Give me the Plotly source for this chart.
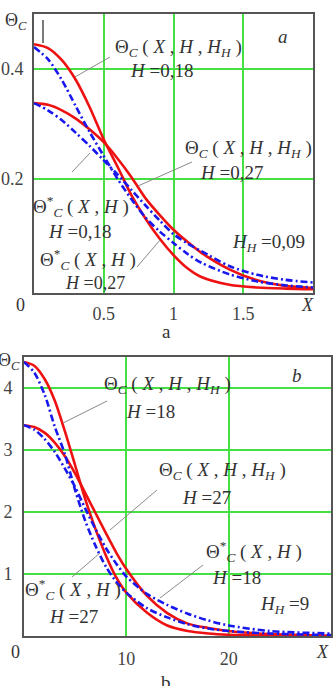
import plotly.graph_objects as go

# ---------------- data ----------------
# panel a
xa = [0, 0.1, 0.2, 0.3, 0.4, 0.5, 0.6, 0.7, 0.8, 0.9, 1.0, 1.1, 1.2, 1.4, 1.6, 1.8, 2.0]
a_red_018 = [0.445, 0.438, 0.416, 0.38, 0.33, 0.272, 0.222, 0.17, 0.128, 0.092, 0.062, 0.038, 0.022, 0.008, 0.003, 0.001, 0.0]
a_red_027 = [0.338, 0.335, 0.325, 0.31, 0.29, 0.267, 0.237, 0.203, 0.165, 0.135, 0.108, 0.086, 0.066, 0.036, 0.016, 0.006, 0.002]
a_blue_018 = [0.44, 0.418, 0.38, 0.332, 0.285, 0.242, 0.2, 0.163, 0.13, 0.105, 0.084, 0.064, 0.048, 0.027, 0.014, 0.007, 0.003]
a_blue_027 = [0.338, 0.325, 0.307, 0.284, 0.26, 0.234, 0.208, 0.18, 0.152, 0.125, 0.1, 0.083, 0.069, 0.042, 0.026, 0.017, 0.012]
a_xticks = [0.5, 1, 1.5]
a_xticklabels = ["0.5", "1", "1.5"]
a_yticks = [0.2, 0.4]
a_yticklabels = ["0.2", "0.4"]

# panel b
xb = [0, 1, 2, 3, 4, 5, 6, 7, 8, 9, 10, 12, 14, 16, 18, 20, 24, 30]
b_red_18 = [4.42, 4.36, 4.15, 3.8, 3.3, 2.75, 2.2, 1.72, 1.3, 0.95, 0.7, 0.38, 0.17, 0.08, 0.04, 0.02, 0.005, 0.0]
b_red_27 = [3.4, 3.37, 3.28, 3.12, 2.9, 2.62, 2.3, 1.98, 1.66, 1.35, 1.08, 0.65, 0.37, 0.2, 0.13, 0.08, 0.03, 0.005]
b_blue_18 = [4.42, 4.25, 3.9, 3.38, 2.93, 2.35, 1.85, 1.45, 1.12, 0.88, 0.7, 0.45, 0.3, 0.19, 0.12, 0.08, 0.04, 0.015]
b_blue_27 = [3.4, 3.33, 3.18, 2.97, 2.7, 2.4, 2.05, 1.72, 1.42, 1.17, 0.96, 0.68, 0.5, 0.36, 0.25, 0.17, 0.08, 0.04]
b_xticks = [10, 20]
b_xticklabels = ["10", "20"]
b_yticks = [1, 2, 3, 4]
b_yticklabels = ["1", "2", "3", "4"]

W, H = 333, 686
SERIF = "Liberation Serif, Times New Roman, serif"
TXT = "#333333"
GRID = "#44e044"
FRAME = "#555555"
RED = "#ee1111"
BLUE = "#1818ee"
DASHDOT = "7px,3px,2px,3px"


def px(x):
    return x / W


def py(y):
    return 1 - y / H


fig = go.Figure()


def add_pair(x, yr, yb, xa_, ya_):
    for y in yr:
        fig.add_trace(go.Scatter(x=x, y=y, mode="lines", xaxis=xa_, yaxis=ya_,
                                 line=dict(color=RED, width=2.6, shape="spline", smoothing=0.8),
                                 showlegend=False, hoverinfo="skip"))
    for y in yb:
        fig.add_trace(go.Scatter(x=x, y=y, mode="lines", xaxis=xa_, yaxis=ya_,
                                 line=dict(color=BLUE, width=2.6, dash=DASHDOT, shape="spline", smoothing=0.8),
                                 showlegend=False, hoverinfo="skip"))


add_pair(xa, [a_red_018, a_red_027], [a_blue_018, a_blue_027], "x", "y")
add_pair(xb, [b_red_18, b_red_27], [b_blue_18, b_blue_27], "x2", "y2")

axis_common = dict(showline=True, mirror=True, linecolor=FRAME, linewidth=2,
                   showgrid=True, gridcolor=GRID, gridwidth=2, zeroline=False,
                   ticks="outside", tickcolor="rgba(0,0,0,0)",
                   tickfont=dict(family=SERIF, size=18, color="#444"))

fig.update_layout(
    width=W, height=H, margin=dict(l=0, r=0, t=0, b=0),
    paper_bgcolor="white", plot_bgcolor="white",
    xaxis=dict(domain=[px(34), px(313)], range=[0, 2], anchor="y",
               tickvals=a_xticks, ticktext=a_xticklabels, ticklen=3, **axis_common),
    yaxis=dict(domain=[py(293), py(14)], range=[-0.007, 0.5], anchor="x",
               tickvals=a_yticks, ticktext=a_yticklabels, ticklen=5, **axis_common),
    xaxis2=dict(domain=[px(24), px(331)], range=[0, 30], anchor="y2",
                tickvals=b_xticks, ticktext=b_xticklabels, ticklen=5, **axis_common),
    yaxis2=dict(domain=[py(636), py(357)], range=[0, 4.5], anchor="x2",
                tickvals=b_yticks, ticktext=b_yticklabels, ticklen=6, **axis_common),
)

ann = []


def txt(x, y, s, size=19, italic=False, anchor="center"):
    if italic:
        s = "<i>" + s + "</i>"
    ann.append(dict(x=px(x), y=py(y), xref="paper", yref="paper", text=s, showarrow=False,
                    xanchor=anchor, yanchor="middle",
                    font=dict(family=SERIF, size=size, color=TXT)))


TH = "Θ<sub><i>C</i></sub> ( <i>X</i> , <i>H</i> , <i>H<sub>H</sub></i> )"
TS = "Θ<sup>*</sup><sub><i>C</i></sub> ( <i>X</i> , <i>H</i> )"

# panel a texts
txt(16, 22, "Θ<sub><i>C</i></sub>", size=18)
txt(178, 48, TH)
txt(161, 70, "<i>H</i> =0,18")
txt(248, 149, TH)
txt(232, 172, "<i>H</i> =0,27")
txt(81, 207, TS)
txt(79, 231, "<i>H</i> =0,18")
txt(88, 259, TS)
txt(95, 283, "<i>H</i> =0,27", size=18)
txt(268, 243, "<i>H<sub>H</sub></i> =0,09")
txt(283, 36, "a", italic=True)
txt(20, 305, "0", size=18)
txt(307, 305, "X", size=18, italic=True)
txt(166, 331, "a", size=19)

# panel b texts
txt(9, 361, "Θ<sub><i>C</i></sub>", size=18)
txt(167, 385, TH)
txt(150, 412, "<i>H</i> =18")
txt(222, 471, TH)
txt(206, 497, "<i>H</i> =27")
txt(254, 551, TS)
txt(236, 577, "<i>H</i> =18")
txt(73, 589, TS)
txt(73, 616, "<i>H</i> =27")
txt(284, 605, "<i>H<sub>H</sub></i> =9")
txt(297, 376, "b", italic=True)
txt(15, 652, "0", size=18)
txt(322, 652, "X", size=18, italic=True)
txt(166, 682, "b", size=19)

fig.update_layout(annotations=ann)


# leader lines (pixel positions converted to paper coords)
def seg(x0, y0, x1, y1, color="#8a8a8a", width=1):
    fig.add_shape(type="line", xref="paper", yref="paper",
                  x0=px(x0), y0=py(y0), x1=px(x1), y1=py(y1),
                  line=dict(color=color, width=width))


seg(110, 57, 75, 77)
seg(192, 162, 138, 186)
seg(72, 172, 90, 153)
seg(137, 267, 160, 240)
seg(43, 20, 43, 43, color="#222", width=1.2)

seg(107, 401, 63, 423)
seg(157, 490, 110, 530)
seg(72, 577, 100, 553)
seg(203, 565, 160, 598)

fig.write_html("out.html")
